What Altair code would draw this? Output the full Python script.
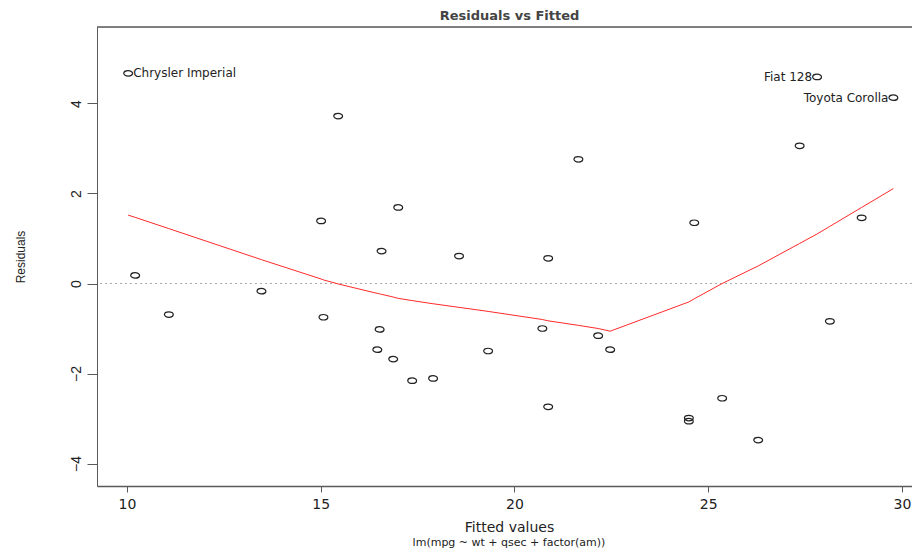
import altair as alt
import pandas as pd

# ---- data ----
fitted = [10.03, 15.45, 15.01, 17.00, 16.57, 18.57, 10.21, 27.81, 29.78, 21.65,
          27.36, 24.64, 20.87, 28.96, 11.08, 13.47, 15.07, 16.52, 16.46, 16.87,
          17.36, 17.90, 19.32, 20.72, 22.16, 22.47, 20.87, 24.50, 24.50, 25.36,
          26.29, 28.14]
residuals = [4.67, 3.72, 1.39, 1.69, 0.72, 0.61, 0.18, 4.59, 4.13, 2.76,
             3.06, 1.35, 0.56, 1.46, -0.69, -0.17, -0.75, -1.02, -1.47, -1.68,
             -2.16, -2.11, -1.50, -1.00, -1.16, -1.47, -2.74, -2.99, -3.06, -2.55,
             -3.48, -0.84]
labels = ["Chrysler Imperial", "", "", "", "", "", "", "Fiat 128", "Toyota Corolla", "",
          "", "", "", "", "", "", "", "", "", "",
          "", "", "", "", "", "", "", "", "", "",
          "", ""]

smooth_x = [10.03, 10.21, 11.08, 13.47, 15.01, 15.07, 15.45, 16.46, 16.52, 16.57,
            16.87, 17.00, 17.36, 17.90, 18.57, 19.32, 20.72, 20.87, 21.65, 22.16,
            22.47, 24.50, 24.64, 25.36, 26.29, 27.36, 27.81, 28.14, 28.96, 29.78]
smooth_y = [1.52, 1.47, 1.22, 0.53, 0.10, 0.08, -0.01, -0.22, -0.23, -0.24,
            -0.30, -0.33, -0.38, -0.45, -0.53, -0.62, -0.80, -0.83, -0.93, -1.00,
            -1.06, -0.41, -0.34, 0.00, 0.39, 0.89, 1.10, 1.27, 1.69, 2.11]

x_ticks = [10, 15, 20, 25, 30]
y_ticks = [-4, -2, 0, 2, 4]
x_domain = [9.226, 30.26]
y_domain = [-4.50, 5.70]
subtitle = ["lm(mpg ~ wt + qsec + factor(am))"]

pts = pd.DataFrame({"fitted": fitted, "resid": residuals, "label": labels})
smooth = pd.DataFrame({"fitted": smooth_x, "resid": smooth_y})
zero_df = pd.DataFrame({"resid": [0.0]})
border = pd.DataFrame({"resid": [y_domain[1]]})
sub = pd.DataFrame({"t": subtitle})

W, H = 815, 459
AXCOL = "#5a5a5a"
TXT = "#222222"

xscale = alt.Scale(domain=x_domain, nice=False, zero=False)
yscale = alt.Scale(domain=y_domain, nice=False, zero=False)

y_axis = alt.Axis(values=y_ticks, tickSize=10, tickColor=AXCOL, domainColor=AXCOL,
                  labelAngle=270, labelFont="Liberation Sans", labelFontSize=14,
                  labelColor=TXT, labelPadding=4, grid=False,
                  title="Residuals", titleFont="Liberation Sans", titleFontSize=12,
                  titleFontWeight="normal", titleColor=TXT, titlePadding=42)

x_axis = alt.Axis(values=x_ticks, tickSize=6, tickColor=AXCOL, domainColor=AXCOL,
                  domainWidth=1.3, labelFont="DejaVu Sans", labelFontSize=14,
                  labelColor=TXT, labelPadding=5, grid=False,
                  title="Fitted values", titleFont="DejaVu Sans", titleFontSize=14,
                  titleFontWeight="normal", titleColor=TXT, titlePadding=9,
                  titleX=412)


def X():
    return alt.X("fitted:Q", scale=xscale, axis=x_axis)


def Y():
    return alt.Y("resid:Q", scale=yscale, axis=y_axis)


zero = alt.Chart(zero_df).mark_rule(color="#aaaaaa", strokeDash=[2, 3],
                                    strokeWidth=1).encode(y=Y())

top_border = alt.Chart(border).mark_rule(color=AXCOL, strokeWidth=1.3).encode(y=Y())

line = alt.Chart(smooth).mark_line(color="#ff2a2a", strokeWidth=1).encode(x=X(), y=Y())

ellipse = "M-1,0A1,0.62,0,1,0,1,0A1,0.62,0,1,0,-1,0Z"
points = alt.Chart(pts).mark_point(shape=ellipse, size=78, filled=False,
                                   color="#222222", strokeWidth=1.2,
                                   opacity=1).encode(x=X(), y=Y())

lab_left = alt.Chart(pts).transform_filter(
    alt.datum.label == "Chrysler Imperial"
).mark_text(align="left", baseline="middle", dx=5, font="DejaVu Sans",
            fontSize=12, color=TXT).encode(x=X(), y=Y(), text="label:N")

lab_right = alt.Chart(pts).transform_filter(
    (alt.datum.label == "Fiat 128") | (alt.datum.label == "Toyota Corolla")
).mark_text(align="right", baseline="middle", dx=-5, font="DejaVu Sans",
            fontSize=12, color=TXT).encode(x=X(), y=Y(), text="label:N")

sub_text = alt.Chart(sub).mark_text(align="center", baseline="middle",
                                    font="DejaVu Sans", fontSize=11,
                                    color=TXT).encode(
    x=alt.value(412), y=alt.value(H + 57), text="t:N"
)

chart = alt.layer(zero, top_border, line, points, lab_left, lab_right, sub_text).properties(
    width=W, height=H,
    autosize=alt.AutoSizeParams(type="none"),
    padding={"left": 97, "top": 27, "right": 0, "bottom": 63},
    title=alt.TitleParams("Residuals vs Fitted", font="DejaVu Sans", fontSize=13,
                          fontWeight="bold", color="#444444", anchor="middle",
                          offset=3, dx=5),
).configure_view(strokeWidth=0, strokeOpacity=0).configure(background="white")

chart.save("out.html", embed_options={"renderer": "svg", "actions": False})
